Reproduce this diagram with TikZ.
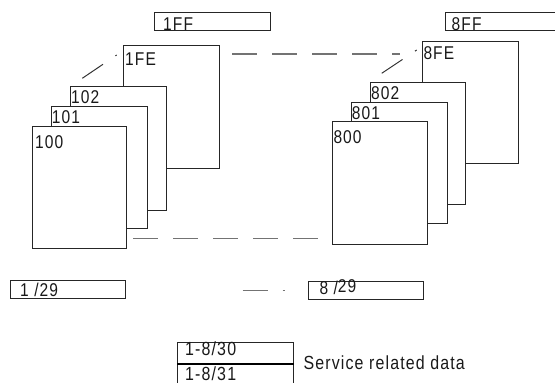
\documentclass[tikz,border=0pt]{standalone}
\usepackage{fontspec}
\newfontfamily\labfont[FakeStretch=0.84,LetterSpace=6]{Liberation Sans}
\begin{document}
\begin{tikzpicture}[x=1pt,y=-1pt,
  box/.style={draw=black!85,line width=0.9pt,fill=white,inner sep=0pt,anchor=north west},
  lab/.style={font=\labfont\fontsize{18.5}{20}\selectfont,inner sep=0pt,anchor=base west,text=black!90},
  dline/.style={draw=black!55,line width=1.5pt,dash pattern=on 25pt off 15pt}]
\useasboundingbox (0,0) rectangle (555,383);
% top header boxes
\node[box,minimum width=115.7pt,minimum height=18pt] (b1ff) at (154.3,12.3) {};
\node[lab] (t1ff) at (163,30) {1FF};
\draw[draw=black!85,line width=0.9pt] (555,12.3) -| (445,30.3) -- (555,30.3);
\node[lab] (t8ff) at (451.5,30) {8FF};
% left stack
\node[box,minimum width=95.7pt,minimum height=122.4pt] (p1fe) at (123,45.3) {};
\node[box,minimum width=95.7pt,minimum height=123.7pt] (p102) at (70,86.3) {};
\node[box,minimum width=96.3pt,minimum height=122pt] (p101) at (50.7,106.3) {};
\node[box,minimum width=94.6pt,minimum height=122.3pt] (p100) at (31.7,126) {};
\node[lab] (t1fe) at (125,65) {1FE};
\node[lab] (t102) at (71,103.3) {102};
\node[lab] (t101) at (51.7,123.3) {101};
\node[lab] (t100) at (35,148.3) {100};
% right stack
\node[box,minimum width=96.3pt,minimum height=122.3pt] (p8fe) at (421.7,41) {};
\node[box,minimum width=95.3pt,minimum height=122.6pt] (p802) at (370,81.7) {};
\node[box,minimum width=96pt,minimum height=121.6pt] (p801) at (350.7,101.7) {};
\node[box,minimum width=95pt,minimum height=123.3pt] (p800) at (331.7,121) {};
\node[lab] (t8fe) at (423.3,59.3) {8FE};
\node[lab] (t802) at (371,99) {802};
\node[lab] (t801) at (351.7,119) {801};
\node[lab] (t800) at (333.3,143.3) {800};
% dashed connectors
\coordinate (topA) at (232,54);
\coordinate (topB) at (400,54);
\coordinate (botA) at (133.3,238.7);
\coordinate (botB) at (318,238.7);
\coordinate (dlA) at (82.3,78.3);
\coordinate (dlB) at (116.7,55);
\coordinate (drA) at (381.7,73.3);
\coordinate (drB) at (416.7,50);
\coordinate (midA) at (242.5,290.5);
\coordinate (midB) at (285.3,290.5);
\draw[dline] (topA) -- (topB);
\draw[dline] (botA) -- (botB);
\draw[dline,line width=1pt,draw=black!80] (dlA) -- (dlB);
\draw[dline,line width=1pt,draw=black!80] (drA) -- (drB);
\draw[dline] (midA) -- (midB);
% lower boxes
\node[box,minimum width=115pt,minimum height=18pt] (b129) at (10,280) {};
\node[lab] (t129) at (20,296.7) {1 /29};
\node[box,minimum width=115pt,minimum height=18pt] (b829) at (308,281) {};
\node[lab] (t829) at (319.3,294.3) {8 /\raisebox{2pt}{29}};
% service related data
\node[box,minimum width=116pt,minimum height=21.6pt] (b830) at (177,341.7) {};
\draw[draw=black!85,line width=0.9pt] (177,363.3) -- (177,384) (293,363.3) -- (293,384);
\draw[draw=black,line width=1.8pt] (b830.south west) -- (b830.south east);
\node[lab,font=\labfont\fontsize{19}{20}\selectfont] (t830) at (185,355) {1-8/30};
\node[lab,font=\labfont\fontsize{19}{20}\selectfont] (t831) at (185,380.5) {1-8/31};
\node[lab,font=\labfont\fontsize{19}{20}\selectfont] (tsrd) at (303.3,369) {Service related data};
\end{tikzpicture}
\end{document}
